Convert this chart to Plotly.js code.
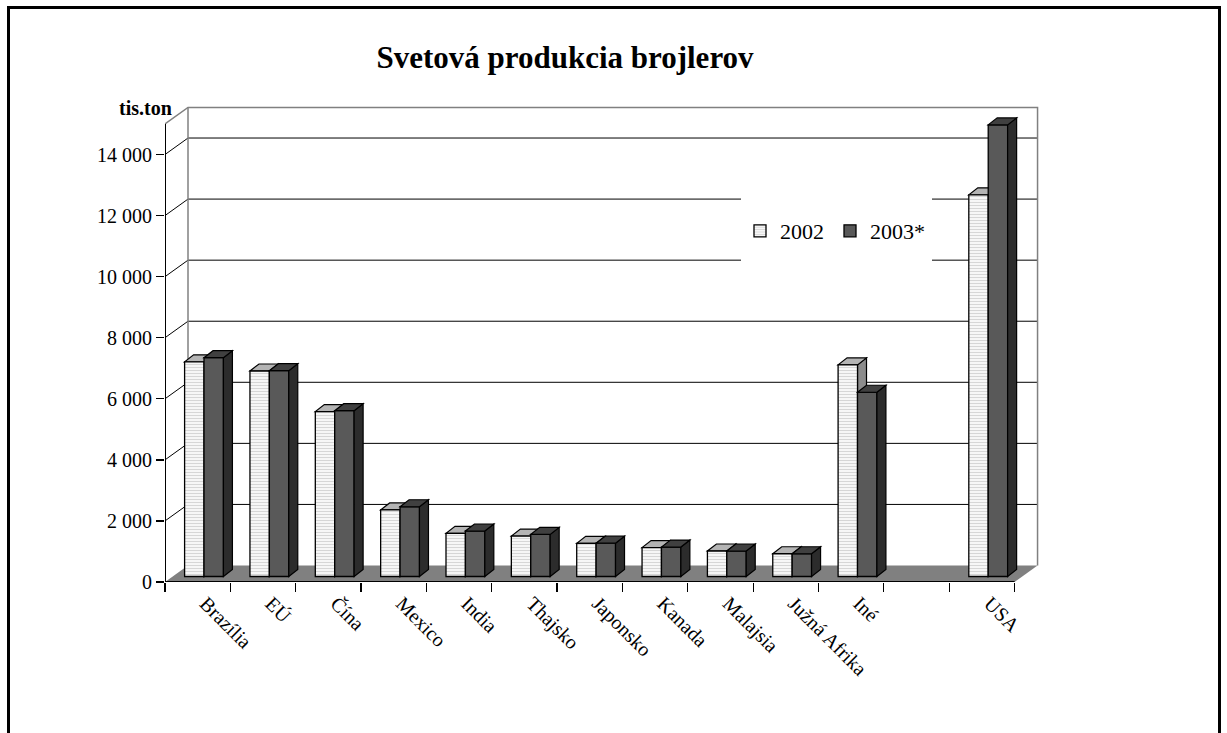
<!DOCTYPE html>
<html>
<head>
<meta charset="utf-8">
<script src="https://cdn.plot.ly/plotly-3.0.1.min.js"></script>
<style>
html,body{margin:0;padding:0;background:#fff;overflow:hidden}
#frame{position:absolute;left:7px;top:6px;width:1214px;height:800px;border:3px solid #000;box-sizing:border-box;pointer-events:none}
</style>
</head>
<body>
<div id="chart" style="width:1227px;height:733px"></div>
<div id="frame"></div>
<script>
// ---- data ----
const categories = ['Brazília','EÚ','Čína','Mexico','India','Thajsko','Japonsko','Kanada','Malajsia','Južná Afrika','Iné',' ','USA'];
const values2002 = [7030, 6730, 5400, 2180, 1415, 1325, 1085, 945, 835, 745, 6930, null, 12500];
const values2003 = [7165, 6740, 5430, 2285, 1490, 1380, 1090, 965, 835, 745, 6035, null, 14790];
const yTickValues = [0, 2000, 4000, 6000, 8000, 10000, 12000, 14000];
const seriesNames = ['2002', '2003*'];
const chartTitle = 'Svetová produkcia brojlerov';
const unitLabel = 'tis.ton';

// ---- geometry / style ----
const W = 1227, H = 733;
const L = 165, R = 188, T = 105, B = 151;
const plotW = W - L - R, plotH = H - T - B;
const SLOT = 65.35;          // px per category
const UPP = 32.75;           // value units per px
const xRange = [-0.5, -0.5 + plotW / SLOT];
const yRange = [0, plotH * UPP];
const xEnd = categories.length - 0.5;
const FRONT_TOP = 15000;
const WX = 23 / SLOT, WY = 16.5 * UPP;   // wall depth
const DX = 9 / SLOT, DY = 7 * UPP;       // bar depth
const BASE = 5.5 * UPP;                  // bars sit behind front edge
const OFF = [-0.2, 0.097], BW = [0.297, 0.297];
// legend backdrop box (px)
const LEG = {x0:741, x1:932, y0:197, y1:263};

function P(pts, close) {
  return 'M' + pts.map(p => p[0] + ',' + p[1]).join(' L') + (close ? ' Z' : '');
}
const px2x = p => -0.5 + (p - L) / SLOT;
const px2y = p => (H - B - p) * UPP;

const shapes = [];
// floor
shapes.push({type:'path', xref:'x', yref:'y', layer:'below',
  path: P([[-0.5,0],[xEnd,0],[xEnd+WX,WY],[-0.5+WX,WY]], true),
  fillcolor:'#808080', line:{width:0}});
// gridlines (left wall diagonal + back wall)
yTickValues.forEach(v => {
  if (v <= 0) return;
  shapes.push({type:'path', xref:'x', yref:'y', layer:'below',
    path: P([[-0.5,v],[-0.5+WX,v+WY],[xEnd+WX,v+WY]]),
    line:{color:'#000', width:1}});
});
// wall outlines
shapes.push({type:'path', xref:'x', yref:'y', layer:'below',
  path: P([[-0.5,FRONT_TOP],[-0.5+WX,FRONT_TOP+WY],[xEnd+WX,FRONT_TOP+WY],[xEnd+WX,WY]]),
  line:{color:'#808080', width:1.5}});
shapes.push({type:'path', xref:'x', yref:'y', layer:'below',
  path: P([[-0.5+WX,WY],[-0.5+WX,FRONT_TOP+WY]]),
  line:{color:'#808080', width:1.5}});
// white backdrop behind legend
shapes.push({type:'rect', xref:'x', yref:'y', layer:'below',
  x0:px2x(LEG.x0), x1:px2x(LEG.x1), y0:px2y(LEG.y1), y1:px2y(LEG.y0),
  fillcolor:'#ffffff', line:{width:0}});

// 3D faces of bars
const faceStyle = [
  {top:'#b4b4b4', side:'#8c8c8c', layer:'below'},
  {top:'#404040', side:'#2c2c2c', layer:'above'}
];
[values2002, values2003].forEach((vals, s) => {
  vals.forEach((v, i) => {
    if (v === null) return;
    const x0 = i + OFF[s], x1 = x0 + BW[s], top = BASE + v;
    shapes.push({type:'path', xref:'x', yref:'y', layer:faceStyle[s].layer,
      path: P([[x1,top],[x1+DX,top+DY],[x1+DX,BASE+DY],[x1,BASE]], true),
      fillcolor:faceStyle[s].side, line:{color:'#000', width:1.2}});
    shapes.push({type:'path', xref:'x', yref:'y', layer:faceStyle[s].layer,
      path: P([[x0,top],[x1,top],[x1+DX,top+DY],[x0+DX,top+DY]], true),
      fillcolor:faceStyle[s].top, line:{color:'#000', width:1.2}});
  });
});
// front axis lines
shapes.push({type:'path', xref:'x', yref:'y', layer:'above',
  path: P([[-0.5,FRONT_TOP],[-0.5,0],[xEnd,0]]), line:{color:'#000', width:2}});

const traces = [
  {type:'bar', name:seriesNames[0], x:categories, y:values2002, base:BASE,
   offset:OFF[0], width:BW[0], hoverinfo:'skip', legendwidth:45,
   marker:{color:'#f4f4f4', pattern:{shape:'-', fgcolor:'#d2d2d2', bgcolor:'#f6f6f6', size:3, solidity:0.3},
           line:{color:'#000', width:1.3}}},
  {type:'bar', name:seriesNames[1], x:categories, y:values2003, base:BASE,
   offset:OFF[1], width:BW[1], hoverinfo:'skip', legendwidth:70,
   marker:{color:'#595959', line:{color:'#000', width:1.3}}}
];

const layout = {
  width:W, height:H,
  margin:{l:L, r:R, t:T, b:B, pad:0},
  paper_bgcolor:'#ffffff', plot_bgcolor:'rgba(0,0,0,0)',
  font:{family:'Liberation Serif, Times New Roman, serif', color:'#000'},
  separators:', ',
  barmode:'overlay',
  showlegend:true,
  title:{text:chartTitle, font:{size:31, weight:'bold', color:'#000'},
         xref:'container', x:565/W, xanchor:'center',
         yref:'container', y:1-57/H, yanchor:'middle'},
  xaxis:{type:'category', categoryorder:'array', categoryarray:categories,
         range:xRange, tickson:'boundaries', ticks:'outside', ticklen:9, tickwidth:1.3, tickcolor:'#000',
         tickangle:45, tickfont:{size:20}, ticklabelshift:8, ticklabelstandoff:5,
         showgrid:false, zeroline:false, showline:false, fixedrange:true},
  yaxis:{range:yRange, tickmode:'array', tickvals:yTickValues, tickformat:',d',
         ticks:'outside', ticklen:8, tickwidth:1.3, tickcolor:'#000', tickfont:{size:20},
         showgrid:false, zeroline:false, showline:false, fixedrange:true},
  legend:{orientation:'h', xref:'paper', yref:'paper', x:(740-L)/plotW, y:(H-B-210)/plotH,
          xanchor:'left', yanchor:'top', bgcolor:'rgba(0,0,0,0)', borderwidth:0,
          font:{size:22}, traceorder:'normal'},
  annotations:[{text:'<b>' + unitLabel + '</b>', xref:'paper', yref:'paper',
                x:(145-L)/plotW, y:(H-B-108)/plotH, xanchor:'center', yanchor:'middle',
                showarrow:false, font:{size:20}}],
  shapes:shapes
};

Plotly.newPlot('chart', traces, layout, {staticPlot:true, displayModeBar:false});
</script>
</body>
</html>
